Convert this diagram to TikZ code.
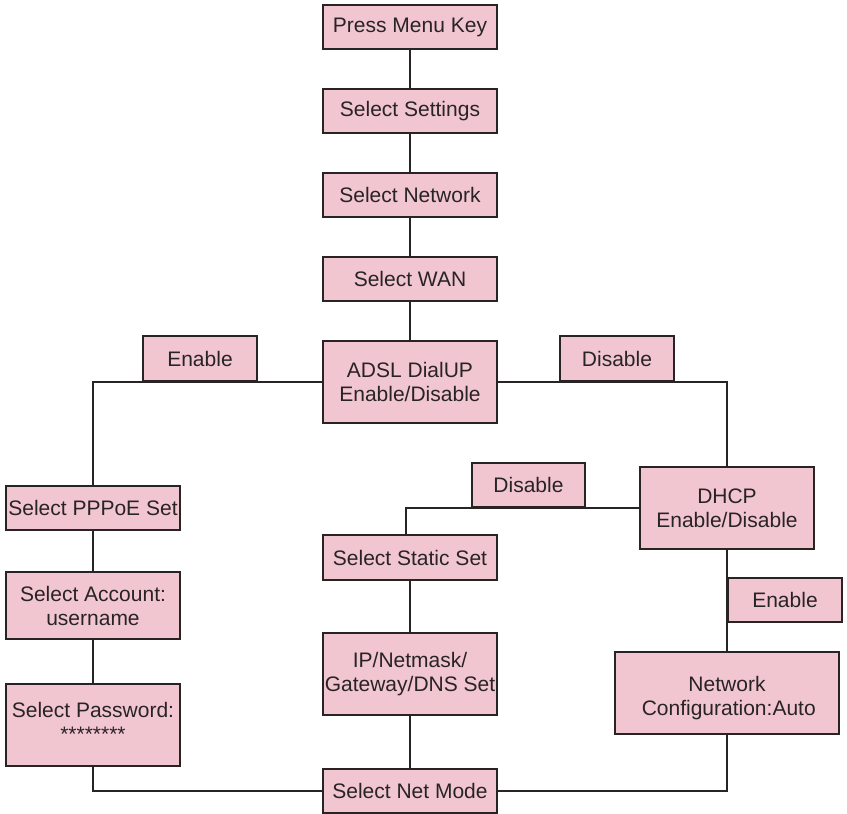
\documentclass[tikz,border=0pt]{standalone}
\usepackage{fontspec}
\setmainfont{Liberation Sans}
\definecolor{boxfill}{RGB}{242,198,208}
\definecolor{ink}{RGB}{40,36,38}
\tikzset{
  box/.style={draw=ink, fill=boxfill, line width=1.4pt, text=ink, align=center,
    inner sep=0pt, font=\fontsize{21}{24}\selectfont},
  std/.style={box, minimum width=174pt, minimum height=44pt},
  tall/.style={box, minimum width=174pt, minimum height=82pt},
  lbl/.style={box, minimum width=114pt, minimum height=44pt},
  conn/.style={draw=ink, line width=1.4pt}
}
\begin{document}
\begin{tikzpicture}[x=1pt,y=-1pt]
\useasboundingbox (0,0) rectangle (847,814);
\node[std] (menu) at (410,27) {Press Menu Key};
\node[std] (settings) at (410,111) {Select Settings};
\node[std] (network) at (410,195) {Select Network};
\node[std] (wan) at (410,279) {Select WAN};
\node[tall] (adsl) at (410,382) {ADSL DialUP\\Enable/Disable};
\node[std] (pppoe) at (93,508) {Select PPPoE Set};
\node[box, minimum width=174pt, minimum height=67pt] (account) at (93,605.5) {Select Account:\\username};
\node[tall] (password) at (93,725) {};
\node[box, draw=none, fill=none] (passtext) at (93,722) {Select Password:\\********};
\node[tall] (dhcp) at (727,508) {DHCP\\Enable/Disable};
\node[box, minimum width=174pt, minimum height=45pt] (static) at (410,557.5) {Select Static Set};
\node[tall] (ip) at (410,674) {IP/Netmask/\\Gateway/DNS Set};
\node[box, minimum width=224pt, minimum height=82pt] (netconf) at (727,693) {};
\node[box, draw=none, fill=none] (netconftext) at (727,698) {Network\\ \,Configuration:Auto};
\node[std] (netmode) at (410,791) {Select Net Mode};
\coordinate (staticin) at ([xshift=-4pt]static.north);
% connectors
\draw[conn] (menu) -- (settings);
\draw[conn] (settings) -- (network);
\draw[conn] (network) -- (wan);
\draw[conn] (wan) -- (adsl);
\draw[conn] (adsl.west) -| (pppoe.north);
\draw[conn] (adsl.east) -| (dhcp.north);
\draw[conn] (dhcp.west) -| (staticin);
\draw[conn] (pppoe) -- (account);
\draw[conn] (account) -- (password);
\draw[conn] (password.south) |- (netmode.west);
\draw[conn] (static) -- (ip);
\draw[conn] (ip) -- (netmode);
\draw[conn] (dhcp) -- (netconf);
\draw[conn] (netconf.south) |- (netmode.east);
% labels
\node[lbl, minimum height=45pt] (enL) at (200,358.5) {Enable};
\node[lbl, minimum height=45pt] (disL) at (617,358.5) {Disable};
\node[box, minimum width=113pt, minimum height=44pt] (disM) at (528.5,485) {Disable};
\node[lbl] (enR) at (785,600) {Enable};
\end{tikzpicture}
\end{document}
